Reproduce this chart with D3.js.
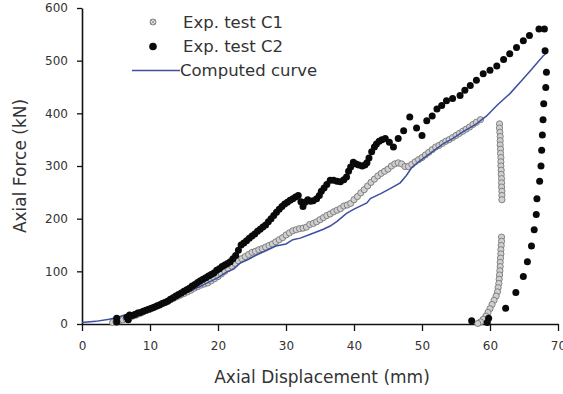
<!DOCTYPE html>
<html>
<head>
<meta charset="utf-8">
<script src="https://cdn.jsdelivr.net/npm/d3@7/dist/d3.min.js"></script>
<style>
  html, body { margin: 0; padding: 0; background: #fff; }
  svg { display: block; }
  text { font-family: "DejaVu Sans", sans-serif; fill: #333; }
</style>
</head>
<body>
<svg id="chart" width="563" height="394"></svg>
<script>
// ---- Data ----
const xTicks = [0, 10, 20, 30, 40, 50, 60, 70];
const yTicks = [0, 100, 200, 300, 400, 500, 600];
const xLabel = "Axial Displacement (mm)";
const yLabel = "Axial Force (kN)";
const legendLabels = ["Exp. test C1", "Exp. test C2", "Computed curve"];

// Exp. test C1: displacement (mm)
const c1X = [4.5,5,5.5,6,6.5,7,7.5,8,8.5,9,9.5,10,10.5,11,11.5,12,12.5,13,13.5,14,14.5,15,15.5,16,16.5,17,17.5,18,18.5,19,19.5,20,20.5,21,21.5,22,22.5,23,23.5,24,24.5,25,25.5,26,26.5,27,27.5,28,28.5,29,29.5,30,30.5,31,31.5,32,32.5,33,33.5,34,34.5,35,35.5,36,36.5,37,37.5,38,38.5,39,39.5,40,40.5,41,41.5,42,42.5,43,43.5,44,44.5,45,45.5,46,46.5,47,47.5,48,48.5,49,49.5,50,50.5,51,51.5,52,52.5,53,53.5,54,54.5,55,55.5,56,56.5,57,57.5,58,58.6,
  61.4,61.4,61.45,61.5,61.5,61.5,61.55,61.55,61.6,61.6,61.6,61.65,61.65,61.7,61.7,61.7,61.75,61.75,61.75,
  61.7,61.7,61.65,61.6,61.6,61.55,61.5,61.5,61.45,61.4,61.35,61.3,61.2,61.1,60.9,60.6,60.3,60,59.7,59.4,59,58.6,58.2];
// Exp. test C1: force (kN)
const c1Y = [3,4,6,8,10,12,15,17,20,23,26,28,31,34,37,40,43,46,49,52,55,58,61,64,68,71,74,76,78,82,86,90,95,100,105,110,115,120,124,128,132,136,138,141,143,146,149,152,156,160,164,169,173,177,179,181,182,184,189,191,194,198,202,206,209,213,216,219,224,226,229,236,242,249,255,262,269,275,281,286,290,294,300,304,306,304,299,299,303,308,312,316,321,326,331,336,339,343,347,350,354,358,362,366,370,374,379,383,388,
  380,372,364,356,348,340,332,324,316,308,300,292,284,276,268,260,252,244,236,
  165,157,149,141,133,125,117,109,101,93,85,77,69,61,53,45,37,29,22,15,9,4,1];

// Exp. test C2: displacement (mm)
const c2X = [5.1,5.1,6.6,6.8,7,7.4,7.8,8.2,8.6,9,9.4,9.8,10.2,10.6,11,11.4,11.8,12.2,12.6,13,13.4,13.8,14.2,14.6,15,15.4,15.8,16.2,16.6,17,17.4,17.8,18.2,18.6,19,19.4,19.8,20.2,20.6,21,21.4,21.8,22.2,22.6,23,23.4,23.8,24.2,24.6,25,25.4,25.8,26.2,26.6,27,27.4,27.8,28.2,28.6,29,29.4,29.8,30.2,30.6,31,31.4,31.8,32.2,32.5,32.8,33.2,33.6,34,34.5,34.9,35.2,35.6,36,36.5,37,37.5,38,38.5,38.9,39.2,39.5,39.9,40.3,40.7,41.2,41.6,41.9,42.2,42.6,43,43.3,43.7,44.1,44.6,45.2,45.8,46.5,47.3,48.2,49.2,50,50.7,51.5,52.2,52.9,53.6,54.5,55.6,56.3,57.1,58,59,60,61,62,62.9,63.9,64.9,65.8,67.2,68,
  68.1,68.3,68.2,67.9,67.8,67.7,67.6,67.5,67.3,66.9,66.8,66.5,66.1,65.5,64.9,63.8,62.3,59.8,57.3,59.6];
// Exp. test C2: force (kN)
const c2Y = [4,11,13,8,17,16,18,21,22,24,26,28,30,32,34,36,39,41,43,47,50,53,56,59,62,65,68,72,75,79,82,85,88,91,94,97,102,105,109,112,115,118,124,130,140,150,154,158,163,167,171,176,180,184,188,194,200,206,212,218,223,228,231,235,238,241,244,232,223,231,236,233,234,238,244,252,258,265,273,273,271,270,274,279,290,298,307,304,302,300,302,306,315,327,336,342,347,350,352,345,336,352,367,393,372,358,386,395,408,415,424,428,434,444,453,463,475,482,490,502,513,525,538,548,560,560,
  519,478,449,418,388,359,330,300,271,238,208,179,148,118,90,60,30,11,6,3];

// Computed curve: displacement (mm)
const compX = [0,2,4,5,7,10,12,14.4,16,18.3,20,21.3,22.3,23.2,24.5,25.5,27.2,28.5,30,31,32.1,33.5,35.5,36.5,37.5,38.9,40,41.9,42.4,44,45.3,46.8,47.7,48.5,49.5,51,53.1,54.5,56,58,59.5,61,62.9,64.5,66,67.8,68.4];
// Computed curve: force (kN)
const compY = [3,5,9,12,20,33,43,55,63,77,88,99,104,115,123,130,140,148,152,160,163,170,180,186,195,210,218,230,238,248,257,268,282,297,308,322,342,352,365,380,395,415,437,460,482,509,515];

// ---- Layout ----
const svg = d3.select("#chart");
const x = d3.scaleLinear().domain([0, 70]).range([82, 558]);
const y = d3.scaleLinear().domain([0, 600]).range([324, 8]);

// Axes
const gx = svg.append("g").attr("transform", `translate(0,${y(0)})`)
  .call(d3.axisBottom(x).tickValues(xTicks).tickSize(7).tickPadding(10).tickSizeOuter(0));
const gy = svg.append("g").attr("transform", `translate(${x(0)},0)`)
  .call(d3.axisLeft(y).tickValues(yTicks).tickSize(5).tickPadding(9).tickSizeOuter(0));
[gx, gy].forEach(g => {
  g.select(".domain").attr("stroke", "#111").attr("stroke-width", 1.6);
  g.selectAll(".tick line").attr("stroke", "#111").attr("stroke-width", 1.3);
  g.selectAll(".tick text").attr("font-size", 12).attr("font-family", "DejaVu Sans").attr("fill", "#444");
});

svg.append("text").attr("x", 322).attr("y", 383).attr("text-anchor", "middle")
  .attr("font-size", 17).text(xLabel);
svg.append("text").attr("transform", "translate(26,166) rotate(-90)")
  .attr("text-anchor", "middle").attr("font-size", 17).text(yLabel);

// C1 markers
const c1 = c1X.map((d, i) => [d, c1Y[i]]);
svg.append("g").selectAll("circle").data(c1).join("circle")
  .attr("cx", d => x(d[0])).attr("cy", d => y(d[1])).attr("r", 3.1)
  .attr("fill", "#d0d0d0").attr("stroke", "#777").attr("stroke-width", 0.9);

// Computed curve
const comp = compX.map((d, i) => [d, compY[i]]);
svg.append("path").datum(comp)
  .attr("d", d3.line().x(d => x(d[0])).y(d => y(d[1])))
  .attr("fill", "none").attr("stroke", "#3d4f9e").attr("stroke-width", 1.5);

// C2 markers
const c2 = c2X.map((d, i) => [d, c2Y[i]]);
svg.append("g").selectAll("circle").data(c2).join("circle")
  .attr("cx", d => x(d[0])).attr("cy", d => y(d[1])).attr("r", 3.5)
  .attr("fill", "#0a0a0a");

// Legend
const lg = svg.append("g");
const rowsY = [22, 46.5, 70.5];
lg.append("circle").attr("cx", 153).attr("cy", rowsY[0]).attr("r", 3)
  .attr("fill", "#ddd").attr("stroke", "#777").attr("stroke-width", 0.9);
lg.append("path").attr("d", `M150.5,${rowsY[0]-2.5}L155.5,${rowsY[0]+2.5}M155.5,${rowsY[0]-2.5}L150.5,${rowsY[0]+2.5}`)
  .attr("stroke", "#888").attr("stroke-width", 0.7);
lg.append("circle").attr("cx", 153).attr("cy", rowsY[1]).attr("r", 3.8).attr("fill", "#0a0a0a");
lg.append("line").attr("x1", 132).attr("x2", 180).attr("y1", rowsY[2]).attr("y2", rowsY[2])
  .attr("stroke", "#3d4f9e").attr("stroke-width", 1.6);
legendLabels.forEach((t, i) => {
  lg.append("text").attr("x", i === 2 ? 180 : 183).attr("y", rowsY[i]).attr("dy", "0.35em")
    .attr("font-size", 16.5).text(t);
});
</script>
</body>
</html>
